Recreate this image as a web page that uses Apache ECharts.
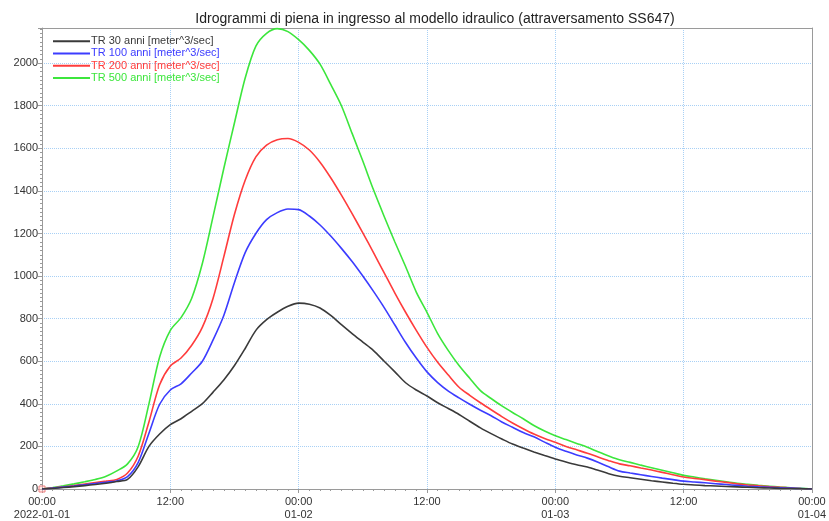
<!DOCTYPE html>
<html>
<head>
<meta charset="utf-8">
<script src="https://cdn.jsdelivr.net/npm/echarts@6/dist/echarts.min.js"></script>
<style>html,body{margin:0;padding:0;background:#fff}#c{width:829px;height:521px}</style>
</head>
<body>
<div id="c"></div>
<script>
const titleText = 'Idrogrammi di piena in ingresso al modello idraulico (attraversamento SS647)';
const seriesNames = ['TR 30 anni [meter^3/sec]','TR 100 anni [meter^3/sec]','TR 200 anni [meter^3/sec]','TR 500 anni [meter^3/sec]'];
const seriesColors = ['#3a3a3a','#3c3cff','#ff3c3c','#3ce63c'];
const xTickLabels = ['00:00\n2022-01-01','12:00','00:00\n01-02','12:00','00:00\n01-03','12:00','00:00\n01-04'];
// hours from 2022-01-01 00:00
const hours = Array.from({length:73},(_,i)=>i);
const tr30 = [0,3,7,11,16,21,27,35,45,105,200,258,302,330,365,401,455,512,580,660,745,795,830,858,873,868,850,815,772,730,690,650,600,550,499,465,437,405,378,350,318,287,260,235,211,192,174,157,141,127,114,103,88,72,60,53,46,39,33,27,22,19,16,14,12,10,8,6,5,3,2,1,0];
const tr100 = [0,4,9,14,20,26,32,38,58,125,262,398,465,494,545,600,700,815,970,1110,1200,1265,1298,1315,1312,1282,1240,1188,1130,1068,1000,928,852,770,688,615,550,500,460,428,398,370,344,315,290,265,245,220,196,177,160,145,126,104,84,75,67,59,51,44,37,33,29,25,21,17,13,10,8,6,4,2,0];
const tr200 = [0,5,10,16,23,30,37,45,75,155,315,490,578,615,675,760,896,1090,1290,1450,1560,1615,1640,1646,1628,1592,1535,1462,1380,1293,1203,1110,1015,920,830,745,665,595,535,478,440,405,372,340,310,283,258,237,219,200,184,168,150,133,118,109,99,89,78,67,56,50,44,37,31,24,19,15,11,8,5,2,0];
const tr500 = [0,7,15,24,34,45,60,85,118,200,400,620,745,805,896,1060,1280,1505,1720,1930,2080,2140,2162,2148,2110,2060,1995,1900,1800,1670,1540,1405,1280,1160,1045,925,830,730,650,580,520,462,425,390,359,330,298,272,250,232,214,196,175,155,137,125,112,100,88,76,64,56,48,41,34,27,22,17,13,9,6,3,0];
const seriesData = [tr30,tr100,tr200,tr500];

const chart = echarts.init(document.getElementById('c'), null, {renderer:'canvas'});
const font = 'Liberation Sans, Arial, sans-serif';
const frameColor = '#9a9a9a';
chart.setOption({
  animation:false,
  backgroundColor:'#fff',
  title:{text:titleText,left:430,textAlign:'center',top:7,textStyle:{fontFamily:font,fontSize:14,fontWeight:'normal',color:'#222'}},
  grid:{left:42,right:15,top:28,bottom:29,show:false},
  legend:{
    orient:'vertical',left:48,top:30,itemGap:0,itemWidth:37,itemHeight:2,icon:'rect',
    textStyle:{fontFamily:font,fontSize:11,lineHeight:12.3,padding:[0,0,0,-4]},
    data:seriesNames.map((n,i)=>({name:n,textStyle:{color:seriesColors[i]}}))
  },
  xAxis:[{
    type:'value',min:0,max:72,interval:12,
    axisLine:{show:true,lineStyle:{color:frameColor}},
    axisTick:{show:true,length:4,lineStyle:{color:frameColor}},
    minorTick:{show:true,splitNumber:12,length:2,lineStyle:{color:frameColor}},
    splitLine:{show:true,lineStyle:{color:'#a8d0f5',type:'dotted',width:1}},
    axisLabel:{fontFamily:font,fontSize:11,color:'#333',lineHeight:13,margin:6,
      formatter:v=>xTickLabels[Math.round(v/12)]}
  },{
    type:'value',min:0,max:72,position:'top',
    axisLine:{show:true,onZero:false,lineStyle:{color:frameColor}},
    axisTick:{show:false},axisLabel:{show:false},splitLine:{show:false}
  }],
  yAxis:[{
    type:'value',min:0,max:2165,interval:200,
    axisLine:{show:true,lineStyle:{color:frameColor}},
    axisTick:{show:true,length:4,lineStyle:{color:frameColor}},
    minorTick:{show:true,splitNumber:10,length:2,lineStyle:{color:frameColor}},
    splitLine:{show:true,lineStyle:{color:'#a8d0f5',type:'dotted',width:1}},
    axisLabel:{fontFamily:font,fontSize:11,color:'#333',margin:4,showMaxLabel:false,formatter:v=>String(v)}
  },{
    type:'value',min:0,max:2165,position:'right',
    axisLine:{show:true,onZero:false,lineStyle:{color:frameColor}},
    axisTick:{show:false},axisLabel:{show:false},splitLine:{show:false}
  }],
  series:seriesNames.map((n,i)=>({
    name:n,type:'line',showSymbol:false,symbol:'none',smooth:0.3,
    data:hours.map((h,j)=>[h,seriesData[i][j]]),
    lineStyle:{color:seriesColors[i],width:1.6},itemStyle:{color:seriesColors[i]},
    z:10-i,
    markPoint: i===0 ? {symbol:'rect',symbolSize:6,silent:true,label:{show:false},
      itemStyle:{color:'rgba(255,200,200,0.4)',borderColor:'#f08080',borderWidth:1},
      data:[{coord:[hours[0],seriesData[0][0]]}]} : undefined
  }))
});
</script>
</body>
</html>
